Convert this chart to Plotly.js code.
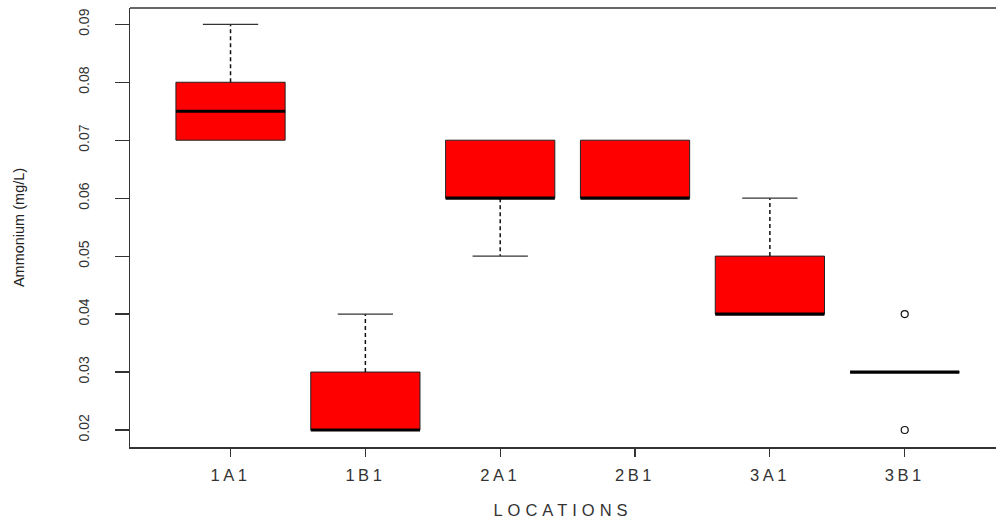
<!DOCTYPE html>
<html>
<head>
<meta charset="utf-8">
<script src="https://cdn.plot.ly/plotly-3.0.1.min.js"></script>
<style>
  html, body { margin: 0; padding: 0; background: #fff; }
  #chart { width: 996px; height: 519px; }
  .xtick text { letter-spacing: 3.5px; }
  .g-xtitle text { letter-spacing: 5px; }
</style>
</head>
<body>
<div id="chart"></div>
<script>
// ---- data ----
const categories   = ['1A1', '1B1', '2A1', '2B1', '3A1', '3B1'];
const lowerWhisker = [0.07, 0.02, 0.05, 0.06, 0.04, 0.03];
const q1           = [0.07, 0.02, 0.06, 0.06, 0.04, 0.03];
const median       = [0.075, 0.02, 0.06, 0.06, 0.04, 0.03];
const q3           = [0.08, 0.03, 0.07, 0.07, 0.05, 0.03];
const upperWhisker = [0.09, 0.04, 0.07, 0.07, 0.06, 0.03];
const outlierCategory = ['3B1', '3B1'];
const outlierValues   = [0.04, 0.02];
const yTickValues = [0.02, 0.03, 0.04, 0.05, 0.06, 0.07, 0.08, 0.09];
const yTickLabels = ['0.02', '0.03', '0.04', '0.05', '0.06', '0.07', '0.08', '0.09'];

// ---- styles ----
const BOX_W = 0.81;
const CAP_W = 0.41;
const idx = categories.map((c, i) => i);

const boxTrace = {
  type: 'bar',
  x: idx,
  base: q1,
  y: q3.map((v, i) => v - q1[i]),
  width: BOX_W,
  marker: { color: '#ff0000', line: { color: '#222', width: 1 } },
  hoverinfo: 'skip'
};

const wx = [], wy = [], cx = [], cy = [];
idx.forEach(i => {
  if (upperWhisker[i] > q3[i]) {
    wx.push(i, i, null); wy.push(q3[i], upperWhisker[i], null);
    cx.push(i - CAP_W / 2, i + CAP_W / 2, null); cy.push(upperWhisker[i], upperWhisker[i], null);
  }
  if (lowerWhisker[i] < q1[i]) {
    wx.push(i, i, null); wy.push(q1[i], lowerWhisker[i], null);
    cx.push(i - CAP_W / 2, i + CAP_W / 2, null); cy.push(lowerWhisker[i], lowerWhisker[i], null);
  }
});
const whiskerTrace = {
  type: 'scatter', mode: 'lines', x: wx, y: wy,
  line: { color: '#111', width: 1.5, dash: '4px,3px' }, hoverinfo: 'skip'
};
const capTrace = {
  type: 'scatter', mode: 'lines', x: cx, y: cy,
  line: { color: '#333', width: 1.2 }, hoverinfo: 'skip'
};
const mx = [], my = [];
idx.forEach(i => {
  mx.push(i - BOX_W / 2, i + BOX_W / 2, null);
  my.push(median[i], median[i], null);
});
const medianTrace = {
  type: 'scatter', mode: 'lines', x: mx, y: my,
  line: { color: '#000', width: 3.2 }, hoverinfo: 'skip'
};
const outlierTrace = {
  type: 'scatter', mode: 'markers',
  x: outlierCategory.map(c => categories.indexOf(c)),
  y: outlierValues,
  marker: { symbol: 'circle-open', size: 7, color: '#111', line: { width: 1.2 } },
  hoverinfo: 'skip'
};

const layout = {
  width: 996, height: 519,
  margin: { l: 130, r: 0, t: 8, b: 72 },
  paper_bgcolor: '#fff', plot_bgcolor: '#fff',
  showlegend: false,
  font: { family: 'Liberation Sans, Arial, sans-serif', color: '#333' },
  xaxis: {
    range: [-0.7456, 5.677],
    tickvals: idx, ticktext: categories,
    ticks: 'outside', ticklen: 8, tickwidth: 1.2, tickcolor: '#333',
    showline: true, linecolor: '#333', linewidth: 1.5,
    showgrid: false, zeroline: false,
    tickfont: { size: 16.5, color: '#333' },
    ticklabelstandoff: 5,
    title: { text: 'LOCATIONS', font: { size: 16.5, color: '#333' }, standoff: 21 }
  },
  yaxis: {
    range: [0.017067, 0.09281],
    tickvals: yTickValues, ticktext: yTickLabels,
    tickangle: -90,
    ticks: 'outside', ticklen: 14, tickwidth: 1.2, tickcolor: '#333',
    showline: true, linecolor: '#333', linewidth: 1.5,
    showgrid: false, zeroline: false,
    tickfont: { size: 14, color: '#333' },
    ticklabelstandoff: 20,
    title: { text: 'Ammonium (mg/L)', font: { size: 14.5, color: '#222' }, standoff: 48 }
  },
  shapes: [{
    type: 'line', xref: 'paper', yref: 'paper', x0: 0, x1: 1, y0: 1, y1: 1,
    line: { color: '#333', width: 1.5 }
  }]
};

Plotly.newPlot('chart', [boxTrace, whiskerTrace, capTrace, medianTrace, outlierTrace], layout,
  { staticPlot: true, displayModeBar: false });
</script>
</body>
</html>
